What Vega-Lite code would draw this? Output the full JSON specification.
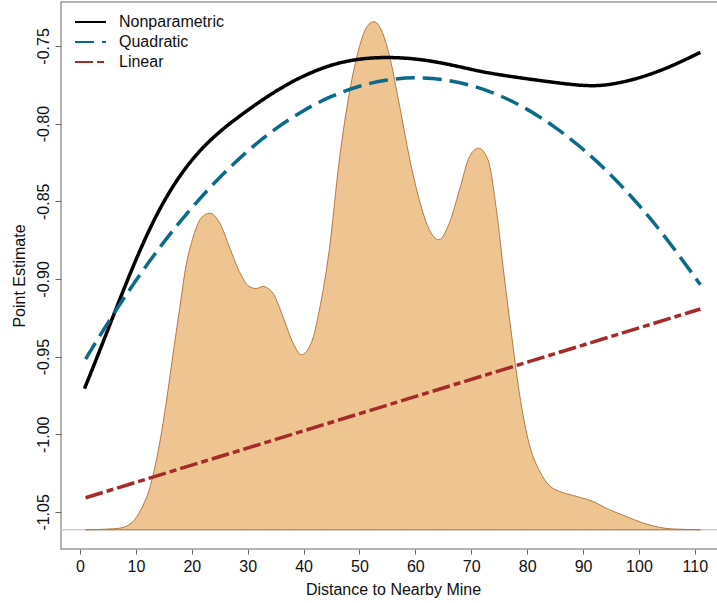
{
  "$schema": "https://vega.github.io/schema/vega-lite/v6.json",
  "autosize": {"type": "none"},
  "width": 664,
  "height": 547,
  "padding": {"left": 61, "top": 2, "right": 0, "bottom": 54},
  "background": "white",
  "config": {
    "font": "Liberation Sans",
    "view": {"stroke": "#9a9a9a", "strokeWidth": 1.5},
    "axis": {
      "grid": false,
      "domain": false,
      "tickColor": "#666666",
      "tickWidth": 1,
      "labelFont": "Liberation Sans",
      "labelFontSize": 16,
      "labelColor": "#111111",
      "titleFont": "Liberation Sans",
      "titleFontSize": 16,
      "titleFontWeight": "normal",
      "titleColor": "#111111"
    }
  },
  "datasets": {
    "density": [
      {"d": 1, "v": -1.0615}, {"d": 4.9, "v": -1.0611}, {"d": 7.1, "v": -1.0605}, {"d": 8.3, "v": -1.0592},
      {"d": 9.6, "v": -1.0557}, {"d": 10.6, "v": -1.0505}, {"d": 11.5, "v": -1.0441}, {"d": 12.4, "v": -1.0357},
      {"d": 13.3, "v": -1.0228}, {"d": 14.2, "v": -1.0068}, {"d": 15.5, "v": -0.9778}, {"d": 16.6, "v": -0.9495},
      {"d": 17.8, "v": -0.9199}, {"d": 19.0, "v": -0.8909}, {"d": 20.1, "v": -0.8748}, {"d": 21.7, "v": -0.8607},
      {"d": 23.2, "v": -0.8577}, {"d": 25.0, "v": -0.8639}, {"d": 26.7, "v": -0.8792}, {"d": 28.5, "v": -0.8952},
      {"d": 30.3, "v": -0.9049}, {"d": 31.5, "v": -0.9062}, {"d": 32.7, "v": -0.9049}, {"d": 34.5, "v": -0.9091},
      {"d": 36.3, "v": -0.9242}, {"d": 38.1, "v": -0.9411}, {"d": 39.6, "v": -0.9488}, {"d": 41.4, "v": -0.9411},
      {"d": 42.8, "v": -0.9205}, {"d": 44.6, "v": -0.8813}, {"d": 46.4, "v": -0.8234}, {"d": 48.2, "v": -0.7802},
      {"d": 50.0, "v": -0.7505}, {"d": 51.2, "v": -0.7384}, {"d": 52.6, "v": -0.7344}, {"d": 53.9, "v": -0.7397},
      {"d": 55.4, "v": -0.7569}, {"d": 57.2, "v": -0.7891}, {"d": 58.9, "v": -0.8212}, {"d": 60.7, "v": -0.8491},
      {"d": 62.5, "v": -0.8684}, {"d": 64.2, "v": -0.8748}, {"d": 66.1, "v": -0.8639}, {"d": 67.9, "v": -0.8427},
      {"d": 69.7, "v": -0.8212}, {"d": 71.3, "v": -0.8158}, {"d": 73.0, "v": -0.8234}, {"d": 74.5, "v": -0.8555},
      {"d": 75.9, "v": -0.8985}, {"d": 77.1, "v": -0.9328}, {"d": 78.6, "v": -0.9733}, {"d": 80.4, "v": -1.0068},
      {"d": 82.2, "v": -1.0235}, {"d": 84.0, "v": -1.0331}, {"d": 85.8, "v": -1.0368}, {"d": 88.8, "v": -1.0400},
      {"d": 91.7, "v": -1.0432}, {"d": 94.7, "v": -1.0486}, {"d": 97.7, "v": -1.0529}, {"d": 100.7, "v": -1.0571},
      {"d": 103.7, "v": -1.0600}, {"d": 106.0, "v": -1.0610}, {"d": 111, "v": -1.0615}
    ],
    "curves": [
      {"series": "Nonparametric", "d": 0.8, "v": -0.9707},
      {"series": "Nonparametric", "d": 3.5, "v": -0.9465},
      {"series": "Nonparametric", "d": 6.2, "v": -0.9215},
      {"series": "Nonparametric", "d": 8.9, "v": -0.8970},
      {"series": "Nonparametric", "d": 11.5, "v": -0.8750},
      {"series": "Nonparametric", "d": 14.2, "v": -0.8550},
      {"series": "Nonparametric", "d": 16.9, "v": -0.8385},
      {"series": "Nonparametric", "d": 19.6, "v": -0.8250},
      {"series": "Nonparametric", "d": 22.3, "v": -0.8140},
      {"series": "Nonparametric", "d": 25.5, "v": -0.8035},
      {"series": "Nonparametric", "d": 28.8, "v": -0.7945},
      {"series": "Nonparametric", "d": 32.0, "v": -0.7862},
      {"series": "Nonparametric", "d": 35.5, "v": -0.7780},
      {"series": "Nonparametric", "d": 39.3, "v": -0.7702},
      {"series": "Nonparametric", "d": 45.2, "v": -0.7613},
      {"series": "Nonparametric", "d": 51.3, "v": -0.7574},
      {"series": "Nonparametric", "d": 57.2, "v": -0.7573},
      {"series": "Nonparametric", "d": 62.5, "v": -0.7593},
      {"series": "Nonparametric", "d": 67.9, "v": -0.7633},
      {"series": "Nonparametric", "d": 72.7, "v": -0.7674},
      {"series": "Nonparametric", "d": 81.0, "v": -0.7717},
      {"series": "Nonparametric", "d": 88.1, "v": -0.7750},
      {"series": "Nonparametric", "d": 91.1, "v": -0.7757},
      {"series": "Nonparametric", "d": 94.2, "v": -0.7755},
      {"series": "Nonparametric", "d": 100.1, "v": -0.7710},
      {"series": "Nonparametric", "d": 106.0, "v": -0.7629},
      {"series": "Nonparametric", "d": 111, "v": -0.7541},
      {"series": "Quadratic", "d": 1, "v": -0.9516},
      {"series": "Quadratic", "d": 5, "v": -0.9279},
      {"series": "Quadratic", "d": 10, "v": -0.9006},
      {"series": "Quadratic", "d": 15, "v": -0.8759},
      {"series": "Quadratic", "d": 20, "v": -0.8538},
      {"series": "Quadratic", "d": 25, "v": -0.8343},
      {"series": "Quadratic", "d": 30, "v": -0.8173},
      {"series": "Quadratic", "d": 35, "v": -0.8030},
      {"series": "Quadratic", "d": 40, "v": -0.7912},
      {"series": "Quadratic", "d": 45, "v": -0.7821},
      {"series": "Quadratic", "d": 50, "v": -0.7755},
      {"series": "Quadratic", "d": 55, "v": -0.7715},
      {"series": "Quadratic", "d": 60, "v": -0.7701},
      {"series": "Quadratic", "d": 65, "v": -0.7713},
      {"series": "Quadratic", "d": 70, "v": -0.7751},
      {"series": "Quadratic", "d": 75, "v": -0.7814},
      {"series": "Quadratic", "d": 80, "v": -0.7904},
      {"series": "Quadratic", "d": 85, "v": -0.8020},
      {"series": "Quadratic", "d": 90, "v": -0.8161},
      {"series": "Quadratic", "d": 95, "v": -0.8328},
      {"series": "Quadratic", "d": 100, "v": -0.8521},
      {"series": "Quadratic", "d": 105, "v": -0.8740},
      {"series": "Quadratic", "d": 111, "v": -0.9038},
      {"series": "Linear", "d": 1, "v": -1.0409},
      {"series": "Linear", "d": 111, "v": -0.9194}
    ]
  },
  "layer": [
    {
      "data": {"values": [{"base": -1.0615}]},
      "mark": {"type": "rule", "color": "#d0d0d0", "strokeWidth": 1.5},
      "encoding": {
        "y": {"field": "base", "type": "quantitative", "title": "Point Estimate",
              "scale": {"domain": [-1.0739, -0.7217], "nice": false, "zero": false}}
      }
    },
    {
      "data": {"name": "density"},
      "mark": {"type": "area", "fill": "#EEC591", "stroke": "#B07B40", "strokeWidth": 1, "interpolate": "monotone"},
      "encoding": {
        "x": {"field": "d", "type": "quantitative", "title": "Distance to Nearby Mine",
              "scale": {"domain": [-3.4, 115.4], "nice": false, "zero": false},
              "axis": {"values": [0, 10, 20, 30, 40, 50, 60, 70, 80, 90, 100, 110], "tickSize": 5, "labelPadding": 4, "titlePadding": 7, "labelFlush": false}},
        "y": {"field": "v", "type": "quantitative", "title": "Point Estimate",
              "scale": {"domain": [-1.0739, -0.7217], "nice": false, "zero": false},
              "axis": {"values": [-1.05, -1.0, -0.95, -0.9, -0.85, -0.8, -0.75], "tickSize": 6, "labelPadding": 4, "titlePadding": 8,
                       "labelAngle": -90, "labelAlign": "center", "labelBaseline": "bottom", "labelFlush": false,
                       "labelExpr": "replace(format(datum.value, '.2f'), '\u2212', '-')"}},
        "y2": {"datum": -1.0615}
      }
    },
    {
      "data": {"name": "curves"},
      "mark": {"type": "line", "strokeWidth": 3.5, "interpolate": "basis"},
      "encoding": {
        "x": {"field": "d", "type": "quantitative", "title": "Distance to Nearby Mine"},
        "y": {"field": "v", "type": "quantitative", "title": "Point Estimate"},
        "color": {"field": "series", "type": "nominal",
                  "scale": {"domain": ["Nonparametric", "Quadratic", "Linear"], "range": ["#000000", "#0C6A89", "#A52A2A"]},
                  "legend": {"title": null, "orient": "none", "legendX": 13, "legendY": 10, "padding": 0,
                             "symbolType": "stroke", "symbolSize": 961, "symbolStrokeWidth": 2, "clipHeight": 20,
                             "labelFont": "Liberation Sans", "labelFontSize": 16, "labelColor": "#111111",
                             "labelOffset": 12, "rowPadding": 0}},
        "strokeDash": {"field": "series", "type": "nominal",
                       "scale": {"domain": ["Nonparametric", "Quadratic", "Linear"], "range": [[1, 0], [19, 8], [18, 4, 7, 4]]},
                       "legend": {"title": null}}
      }
    }
  ]
}
